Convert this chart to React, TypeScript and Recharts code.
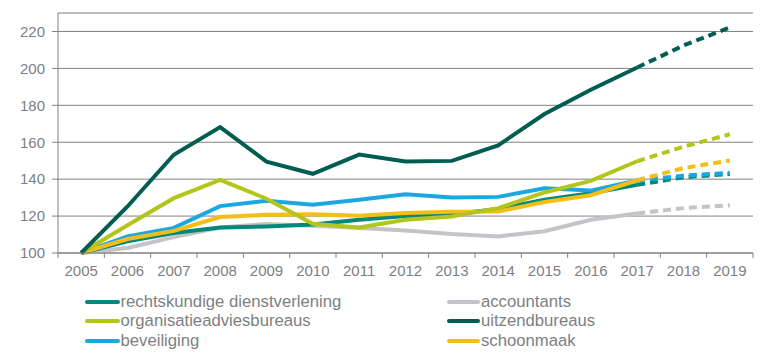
import { LineChart, Line, XAxis, YAxis, CartesianGrid } from "recharts";

const years = [
  "2005", "2006", "2007", "2008", "2009", "2010", "2011", "2012",
  "2013", "2014", "2015", "2016", "2017", "2018", "2019",
];

// index vanaf waar de lijn gestippeld (prognose) wordt: 2017
const FORECAST_FROM = 12;

const rechtskundige = [100, 106.3, 110.8, 113.8, 114.4, 115.5, 118, 120, 121, 123.8, 128.8, 132.4, 136.9, 141, 142.8];
const accountants = [100, 102.7, 108.6, 113.8, 115.7, 114.8, 113.5, 112.2, 110.3, 109, 111.8, 118, 121.4, 124.3, 125.8];
const organisatieadvies = [100, 115, 129.7, 139.6, 129.4, 115.8, 113.8, 118, 119.8, 124.3, 132.8, 139.1, 149.7, 157.6, 164.3];
const uitzendbureaus = [100, 125.2, 153.2, 168.2, 149.5, 142.9, 153.3, 149.6, 149.9, 158.3, 175.3, 188.4, 200.5, 212.4, 222.2];
const beveiliging = [100, 109, 113.6, 125.4, 128.3, 126.1, 128.8, 131.8, 130, 130.4, 135.1, 133.8, 139.3, 141.9, 143.4];
const schoonmaak = [100, 107.6, 112, 119.5, 120.7, 121, 120.2, 121.6, 122.3, 122.5, 127.6, 131.3, 139.4, 146, 150.1];

const yTicks = [100, 120, 140, 160, 180, 200, 220];

// legend order (rows left/right) matches the reference
const SERIES = [
  { key: "rechtskundige", name: "rechtskundige dienstverlening", color: "#00897a", values: rechtskundige },
  { key: "accountants", name: "accountants", color: "#c2c4c7", values: accountants },
  { key: "organisatie", name: "organisatieadviesbureaus", color: "#b4c51a", values: organisatieadvies },
  { key: "uitzend", name: "uitzendbureaus", color: "#005d50", values: uitzendbureaus },
  { key: "beveiliging", name: "beveiliging", color: "#1ba8e0", values: beveiliging },
  { key: "schoonmaak", name: "schoonmaak", color: "#f2be17", values: schoonmaak },
];

// draw order, back to front
const DRAW_ORDER = ["accountants", "rechtskundige", "beveiliging", "schoonmaak", "organisatie", "uitzend"];

const data = years.map((year, i) => {
  const row: Record<string, string | number | null> = { year };
  SERIES.forEach((s) => {
    row[s.key] = i <= FORECAST_FROM ? s.values[i] : null;
    row[s.key + "_f"] = i >= FORECAST_FROM ? s.values[i] : null;
  });
  return row;
});

const W = 776;
const H = 361;
const MARGIN = { top: 13, right: 23, bottom: 78, left: 0 };
const PLOT_BOTTOM = H - MARGIN.bottom - 30;
const HALF_BAND = (W - MARGIN.right - 58) / years.length / 2;
const GRID = "#808080";
const TEXT = "#7d7f83";
const FONT = "'Liberation Sans', Arial, sans-serif";

function YearTick(props: any) {
  const { x, y, payload, index } = props;
  return (
    <g>
      <line x1={x - HALF_BAND} x2={x - HALF_BAND} y1={PLOT_BOTTOM} y2={PLOT_BOTTOM + 5} stroke={GRID} />
      {index === years.length - 1 && (
        <line x1={x + HALF_BAND} x2={x + HALF_BAND} y1={PLOT_BOTTOM} y2={PLOT_BOTTOM + 5} stroke={GRID} />
      )}
      <text x={x} y={y} dy={15} textAnchor="middle" fill={TEXT} fontSize={15} fontFamily={FONT}>
        {payload.value}
      </text>
    </g>
  );
}

function LegendBlock() {
  const cols = [
    { lineX: 85, textX: 120.5 },
    { lineX: 447, textX: 481 },
  ];
  const rowsY = [302, 321.3, 340.7];
  return (
    <div style={{ position: "absolute", left: 0, top: 0, width: W, height: H, pointerEvents: "none" }}>
      {SERIES.map((s, i) => {
        const c = cols[i % 2];
        const yy = rowsY[Math.floor(i / 2)];
        return (
          <div key={s.key}>
            <span
              style={{
                position: "absolute",
                left: c.lineX,
                top: yy - 2,
                width: c.textX - c.lineX - 1,
                height: 4,
                borderRadius: 2,
                background: s.color,
              }}
            />
            <span
              style={{
                position: "absolute",
                left: c.textX,
                top: yy - 10,
                lineHeight: "20px",
                fontSize: 16.7,
                fontFamily: FONT,
                color: TEXT,
                whiteSpace: "nowrap",
              }}
            >
              {s.name}
            </span>
          </div>
        );
      })}
    </div>
  );
}

export default function App() {
  const ordered = DRAW_ORDER.map((k) => SERIES.find((s) => s.key === k)!);
  return (
    <div style={{ position: "absolute", left: 0, top: 0, width: W, height: H, background: "#fff" }}>
      <LineChart width={W} height={H} data={data} margin={MARGIN} style={{ fontFamily: FONT }}>
        <CartesianGrid vertical={false} stroke={GRID} strokeWidth={1} />
        <XAxis
          dataKey="year"
          height={30}
          padding={{ left: HALF_BAND, right: HALF_BAND }}
          tickLine={false}
          tickSize={6}
          tickMargin={2}
          axisLine={{ stroke: GRID }}
          interval={0}
          tick={<YearTick />}
        />
        <YAxis
          width={58}
          domain={[100, 230]}
          ticks={yTicks}
          interval={0}
          tickSize={6}
          tickMargin={7}
          tickLine={{ stroke: GRID }}
          axisLine={{ stroke: GRID }}
          tick={{ fill: TEXT, fontSize: 15, fontFamily: FONT }}
        />
        {ordered.map((s) => (
          <Line
            key={s.key}
            type="linear"
            dataKey={s.key}
            name={s.name}
            stroke={s.color}
            strokeWidth={4}
            dot={false}
            activeDot={false}
            isAnimationActive={false}
          />
        ))}
        {ordered.map((s) => (
          <Line
            key={s.key + "_f"}
            type="linear"
            dataKey={s.key + "_f"}
            name={s.name}
            stroke={s.color}
            strokeWidth={4}
            strokeDasharray="8 5"
            dot={false}
            activeDot={false}
            legendType="none"
            isAnimationActive={false}
          />
        ))}
      </LineChart>
      <LegendBlock />
    </div>
  );
}
